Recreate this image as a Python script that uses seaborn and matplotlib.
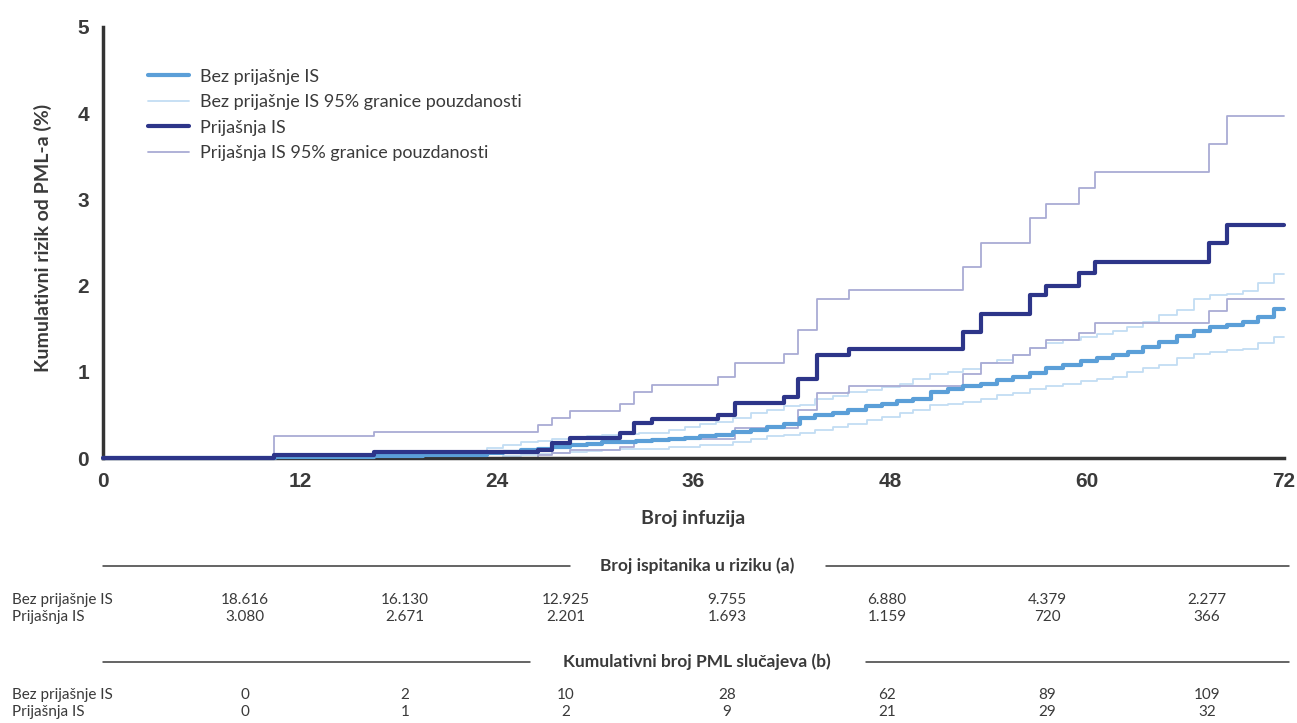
import matplotlib.pyplot as plt
import seaborn as sns
import pandas as pd

# step curves: x = infusion where the step happens, y = cumulative risk (%)
bez_x = [0, 10.5, 16.5, 19.5, 22.5, 23.4, 24.4, 25.5, 26.5, 27.4, 28.5, 29.5, 30.4, 31.5, 32.5,
         33.5, 34.5, 35.5, 36.4, 37.4, 38.4, 39.5, 40.5, 41.5, 42.5, 43.4, 44.5, 45.4, 46.5,
         47.5, 48.4, 49.4, 50.5, 51.5, 52.4, 53.5, 54.5, 55.5, 56.5, 57.5, 58.5, 59.6, 60.6,
         61.6, 62.5, 63.4, 64.4, 65.5, 66.5, 67.5, 68.5, 69.5, 70.4, 71.4, 72]
bez_y = [0, 0.01, 0.02, 0.03, 0.04, 0.06, 0.07, 0.09, 0.11, 0.13, 0.15, 0.16, 0.18, 0.19, 0.20,
         0.21, 0.22, 0.23, 0.25, 0.27, 0.30, 0.32, 0.36, 0.40, 0.46, 0.50, 0.52, 0.56, 0.60,
         0.63, 0.66, 0.69, 0.77, 0.80, 0.83, 0.86, 0.90, 0.94, 0.99, 1.04, 1.08, 1.12, 1.16,
         1.19, 1.23, 1.29, 1.35, 1.41, 1.47, 1.52, 1.54, 1.58, 1.64, 1.73, 1.73]

bez_hi_x = [0, 10.5, 16.5, 22.5, 23.4, 24.4, 25.5, 26.5, 27.4, 28.5, 29.5, 30.4, 31.5, 32.7,
            34.5, 35.5, 36.4, 37.4, 38.4, 39.5, 40.5, 41.5, 42.5, 43.4, 44.5, 45.4, 46.6,
            47.5, 48.6, 49.4, 50.4, 51.5, 52.4, 53.5, 54.5, 55.5, 56.5, 57.5, 58.5, 59.6,
            60.6, 61.6, 62.4, 63.4, 64.4, 65.5, 66.5, 67.5, 68.5, 69.5, 70.4, 71.4, 72]
bez_hi_y = [0, 0.02, 0.04, 0.06, 0.12, 0.15, 0.18, 0.20, 0.22, 0.24, 0.25, 0.27, 0.28, 0.29,
            0.32, 0.36, 0.40, 0.42, 0.46, 0.52, 0.56, 0.60, 0.62, 0.69, 0.72, 0.77, 0.79,
            0.82, 0.86, 0.92, 0.98, 1.00, 1.03, 1.10, 1.14, 1.19, 1.28, 1.33, 1.37, 1.40,
            1.44, 1.47, 1.52, 1.58, 1.66, 1.72, 1.85, 1.89, 1.90, 1.94, 2.03, 2.14, 2.14]

bez_lo_x = [0, 24.4, 25.5, 26.5, 27.4, 28.5, 29.5, 30.4, 31.5, 32.7, 34.5, 36.4, 38.4, 39.5,
            40.5, 41.5, 42.5, 43.4, 44.5, 45.4, 46.6, 47.5, 48.6, 49.4, 50.4, 51.5, 52.4,
            53.5, 54.5, 55.5, 56.5, 57.5, 58.5, 59.6, 60.6, 61.6, 62.4, 63.4, 64.4, 65.5,
            66.5, 67.5, 68.5, 69.5, 70.4, 71.4, 72]
bez_lo_y = [0, 0.02, 0.03, 0.05, 0.06, 0.07, 0.08, 0.09, 0.10, 0.11, 0.13, 0.15, 0.19, 0.22,
            0.25, 0.27, 0.29, 0.32, 0.36, 0.40, 0.44, 0.47, 0.52, 0.56, 0.61, 0.63, 0.65,
            0.69, 0.73, 0.75, 0.80, 0.83, 0.86, 0.89, 0.92, 0.94, 1.00, 1.04, 1.08, 1.16,
            1.21, 1.23, 1.25, 1.27, 1.33, 1.40, 1.40]

pri_x = [0, 10.4, 16.5, 26.5, 27.4, 28.5, 31.5, 32.4, 33.5, 37.5, 38.5, 41.5, 42.4, 43.5,
         45.5, 52.4, 53.5, 56.5, 57.5, 59.5, 60.5, 67.4, 68.5, 72]
pri_y = [0, 0.03, 0.07, 0.09, 0.17, 0.23, 0.29, 0.41, 0.45, 0.50, 0.64, 0.71, 0.92, 1.19,
         1.27, 1.46, 1.67, 1.89, 2.00, 2.15, 2.27, 2.49, 2.70, 2.70]

pri_hi_x = [0, 10.4, 16.5, 26.5, 27.4, 28.5, 31.5, 32.4, 33.5, 37.5, 38.5, 41.5, 42.4, 43.5,
            45.5, 52.4, 53.5, 56.5, 57.5, 59.5, 60.5, 67.4, 68.5, 72]
pri_hi_y = [0, 0.26, 0.30, 0.38, 0.46, 0.55, 0.63, 0.77, 0.85, 0.94, 1.10, 1.21, 1.48, 1.85,
            1.95, 2.22, 2.49, 2.78, 2.95, 3.13, 3.32, 3.64, 3.97, 3.97]

pri_lo_x = [0, 26.5, 27.4, 28.5, 31.5, 32.4, 33.5, 38.5, 42.4, 43.5, 45.5, 52.4, 53.5, 55.5,
            56.5, 57.5, 59.5, 60.5, 67.4, 68.5, 72]
pri_lo_y = [0, 0.03, 0.06, 0.09, 0.13, 0.18, 0.22, 0.35, 0.56, 0.75, 0.83, 0.97, 1.10, 1.19,
            1.28, 1.37, 1.45, 1.57, 1.70, 1.84, 1.84]

legend_labels = ["Bez prijašnje IS", "Bez prijašnje IS 95% granice pouzdanosti",
                 "Prijašnja IS", "Prijašnja IS 95% granice pouzdanosti"]

# table under the chart
row_labels = ["Bez prijašnje IS", "Prijašnja IS"]
at_risk_bez = ["18.616", "16.130", "12.925", "9.755", "6.880", "4.379", "2.277"]
at_risk_pri = ["3.080", "2.671", "2.201", "1.693", "1.159", "720", "366"]
cases_bez = ["0", "2", "10", "28", "62", "89", "109"]
cases_pri = ["0", "1", "2", "9", "21", "29", "32"]

C_BEZ = "#5b9fd8"
C_BEZ_CI = "#c3ddf3"
C_PRI = "#2d3589"
C_PRI_CI = "#a9abd4"
TXT = "#3a3a3a"

sns.set_style("white")
plt.rcParams["font.family"] = ["Lato", "DejaVu Sans"]
tick_font = ["Liberation Sans Narrow", "Liberation Sans", "DejaVu Sans"]

fig = plt.figure(figsize=(12.97, 7.23), dpi=100)
ax = fig.add_axes([103 / 1297, 1 - 458 / 723, 1181 / 1297, 431 / 723])


def step(xs, ys, color, lw, label, z):
    df = pd.DataFrame({"x": xs, "y": ys})
    sns.lineplot(data=df, x="x", y="y", ax=ax, color=color, linewidth=lw, label=label,
                 drawstyle="steps-post", estimator=None, sort=False, zorder=z,
                 clip_on=False, legend=False)


step(bez_hi_x, bez_hi_y, C_BEZ_CI, 1.3, legend_labels[1], 2)
step(bez_lo_x, bez_lo_y, C_BEZ_CI, 1.3, "_nolegend_", 2)
step(pri_hi_x, pri_hi_y, C_PRI_CI, 1.3, legend_labels[3], 2)
step(pri_lo_x, pri_lo_y, C_PRI_CI, 1.3, "_nolegend_", 2)
step(bez_x, bez_y, C_BEZ, 3.0, legend_labels[0], 3)
step(pri_x, pri_y, C_PRI, 3.0, legend_labels[2], 4)

ax.set_xlim(0, 72)
ax.set_ylim(0, 5)
ax.set_xticks(range(0, 73, 12))
ax.set_yticks(range(0, 6))
sns.despine(ax=ax)
for side in ["left", "bottom"]:
    ax.spines[side].set_linewidth(2.5)
    ax.spines[side].set_color("#333333")
ax.tick_params(axis="both", direction="out", length=7, width=2.2, color="#333333",
               labelsize=15, labelcolor=TXT, pad=3)
for lab in ax.get_xticklabels() + ax.get_yticklabels():
    lab.set_fontweight("bold")
    lab.set_family(tick_font)

ax.set_xlabel("Broj infuzija", fontsize=14, fontweight="bold", color=TXT, labelpad=14)
ax.set_ylabel("Kumulativni rizik od PML-a (%)", fontsize=14, fontweight="bold", color=TXT)
ax.yaxis.set_label_coords(-0.043, 0.51)

handles, labels = ax.get_legend_handles_labels()
order = [labels.index(l) for l in legend_labels]
ax.legend([handles[i] for i in order], [labels[i] for i in order], loc="upper left",
          bbox_to_anchor=(0.038, 0.903), frameon=False, fontsize=13, handlelength=2.3,
          handletextpad=0.6, labelspacing=0.52, borderpad=0, borderaxespad=0,
          labelcolor=TXT)

# table area in pixel-like coordinates
tab = fig.add_axes([0, 0, 1, 183 / 723])
tab.set_xlim(0, 1297)
tab.set_ylim(723, 540)
tab.axis("off")

col_x = [245, 405, 566, 727, 887, 1047, 1207]


def header(text, y, x0, x1):
    tab.text(697, y, text, ha="center", va="center", fontsize=12.5, fontweight="bold", color=TXT)
    tab.plot([103, x0], [y, y], color=TXT, lw=1.1)
    tab.plot([x1, 1289], [y, y], color=TXT, lw=1.1)


def rows(y0, vals_a, vals_b):
    for y, name, vals in [(y0, row_labels[0], vals_a), (y0 + 17, row_labels[1], vals_b)]:
        tab.text(12, y, name, ha="left", va="center", fontsize=11, color=TXT)
        for x, v in zip(col_x, vals):
            tab.text(x, y, v, ha="center", va="center", fontsize=11, color=TXT)


header("Broj ispitanika u riziku (a)", 566, 570, 826)
rows(600, at_risk_bez, at_risk_pri)
header("Kumulativni broj PML slučajeva (b)", 662, 530, 866)
rows(695, cases_bez, cases_pri)

fig.savefig("out.png", dpi=100)
